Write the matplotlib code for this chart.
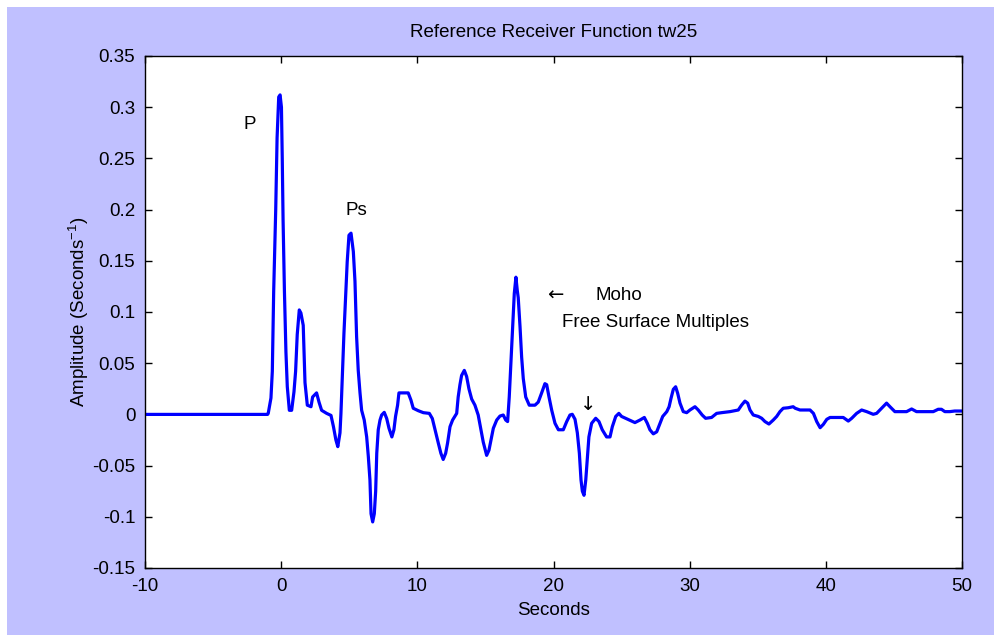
import matplotlib
matplotlib.use("Agg")
import matplotlib.pyplot as plt
from matplotlib.patches import Rectangle

plt.rcParams["font.family"] = ["Liberation Sans", "DejaVu Sans"]
plt.rcParams["mathtext.fontset"] = "custom"
plt.rcParams["mathtext.rm"] = "Liberation Sans"
plt.rcParams["mathtext.it"] = "Liberation Sans"

# receiver function samples (seconds, amplitude)
time_s = [
    -10.0, -1.0, -0.95, -0.75, -0.65, -0.55, -0.40, -0.30, -0.18, -0.08,
    0.02, 0.08, 0.14, 0.24, 0.35, 0.45, 0.60, 0.77, 0.94, 1.06,
    1.18, 1.33, 1.45, 1.62, 1.75, 1.92, 2.19, 2.31, 2.60, 2.78,
    2.97, 3.34, 3.66, 3.84, 4.02, 4.16, 4.32, 4.39, 4.49, 4.61,
    4.74, 4.85, 4.98, 5.13, 5.30, 5.42, 5.54, 5.66, 5.79, 5.91,
    6.10, 6.28, 6.40, 6.52, 6.60, 6.72, 6.84, 6.94, 7.02, 7.13,
    7.26, 7.38, 7.57, 7.75, 7.92, 8.13, 8.28, 8.40, 8.55, 8.65,
    8.97, 9.33, 9.53, 9.70, 10.07, 10.44, 10.88, 11.10, 11.30, 11.54,
    11.73, 11.90, 12.08, 12.22, 12.40, 12.59, 12.89, 13.00, 13.13, 13.25,
    13.45, 13.62, 13.79, 13.99, 14.23, 14.47, 14.67, 14.84, 15.09, 15.26,
    15.41, 15.58, 15.83, 16.07, 16.31, 16.49, 16.63, 16.75, 16.88, 17.00,
    17.12, 17.24, 17.34, 17.41, 17.54, 17.66, 17.78, 17.96, 18.22, 18.64,
    18.88, 19.13, 19.37, 19.50, 19.67, 19.87, 20.11, 20.36, 20.72, 20.97,
    21.21, 21.38, 21.58, 21.75, 21.90, 22.02, 22.12, 22.24, 22.37, 22.48,
    22.60, 22.80, 23.10, 23.34, 23.58, 23.90, 24.15, 24.32, 24.57, 24.80,
    25.00, 25.49, 25.98, 26.35, 26.67, 26.89, 27.08, 27.33, 27.58, 27.82,
    28.02, 28.32, 28.49, 28.63, 28.80, 28.97, 29.12, 29.29, 29.53, 29.78,
    30.02, 30.39, 30.63, 30.92, 31.17, 31.61, 31.98, 32.35, 32.96, 33.57,
    33.81, 34.06, 34.26, 34.43, 34.67, 35.04, 35.29, 35.53, 35.82, 36.14,
    36.39, 36.63, 36.87, 37.24, 37.60, 37.75, 38.10, 38.84, 39.09, 39.33,
    39.58, 39.82, 40.07, 40.31, 41.28, 41.65, 41.90, 42.26, 42.63, 43.00,
    43.48, 43.73, 44.10, 44.46, 44.71, 45.07, 45.93, 46.30, 46.66, 47.89,
    48.25, 48.49, 48.74, 49.10, 49.47, 50.00,
]
amplitude = [
    0.0, 0.0, 0.001, 0.016, 0.042, 0.12, 0.20, 0.27, 0.31, 0.312,
    0.30, 0.25, 0.19, 0.12, 0.061, 0.027, 0.004, 0.004, 0.022, 0.042,
    0.078, 0.102, 0.099, 0.087, 0.031, 0.009, 0.0075, 0.017, 0.021, 0.012,
    0.004, 0.001, -0.001, -0.012, -0.025, -0.0315, -0.018, 0.001, 0.037, 0.079,
    0.118, 0.149, 0.175, 0.177, 0.159, 0.13, 0.076, 0.043, 0.021, 0.004,
    -0.0055, -0.022, -0.041, -0.064, -0.097, -0.105, -0.097, -0.075, -0.038, -0.015,
    -0.0055, -0.0006, 0.002, -0.004, -0.0136, -0.022, -0.015, -0.002, 0.009, 0.021,
    0.021, 0.021, 0.014, 0.006, 0.0036, 0.0017, 0.001, -0.004, -0.015, -0.028,
    -0.038, -0.044, -0.038, -0.028, -0.012, -0.0055, 0.001, 0.017, 0.029, 0.038,
    0.043, 0.037, 0.025, 0.015, 0.009, -0.0006, -0.015, -0.027, -0.040, -0.035,
    -0.025, -0.0136, -0.0055, -0.0016, -0.0006, -0.0055, -0.007, 0.017, 0.053, 0.087,
    0.118, 0.134, 0.121, 0.114, 0.086, 0.056, 0.035, 0.017, 0.009, 0.009,
    0.012, 0.021, 0.030, 0.029, 0.017, 0.004, -0.0087, -0.015, -0.015, -0.007,
    -0.0006, 0.0001, -0.0048, -0.018, -0.038, -0.064, -0.075, -0.079, -0.064, -0.0445,
    -0.022, -0.0087, -0.0038, -0.007, -0.015, -0.022, -0.022, -0.012, -0.002, 0.001,
    -0.002, -0.005, -0.008, -0.0055, -0.003, -0.0087, -0.015, -0.019, -0.017, -0.0087,
    -0.002, 0.0027, 0.0075, 0.0157, 0.0245, 0.027, 0.0206, 0.011, 0.0027, 0.0017,
    0.0043, 0.0075, 0.0043, -0.0006, -0.0038, -0.003, 0.001, 0.0017, 0.0027, 0.0043,
    0.009, 0.013, 0.011, 0.0043, -0.0006, -0.002, -0.0038, -0.007, -0.0094, -0.0055,
    -0.002, 0.0027, 0.006, 0.0065, 0.0075, 0.006, 0.0043, 0.0043, 0.001, -0.007,
    -0.013, -0.0097, -0.0048, -0.003, -0.003, -0.0065, -0.0038, 0.001, 0.0043, 0.0027,
    0.0001, 0.001, 0.006, 0.011, 0.0075, 0.0027, 0.0027, 0.0053, 0.0027, 0.0027,
    0.005, 0.005, 0.0027, 0.0027, 0.0033, 0.0033,
]

x_ticks = [-10, 0, 10, 20, 30, 40, 50]
y_ticks = [-0.15, -0.1, -0.05, 0, 0.05, 0.1, 0.15, 0.2, 0.25, 0.3, 0.35]
y_tick_labels = ["-0.15", "-0.1", "-0.05", "0", "0.05", "0.1", "0.15",
                 "0.2", "0.25", "0.3", "0.35"]

fig = plt.figure(figsize=(9.95, 6.35), dpi=100, facecolor="white")
fig.patches.append(Rectangle((7 / 995, 0), 1, 1 - 7 / 635, transform=fig.transFigure,
                             facecolor="#c0c0ff", edgecolor="none", zorder=-10))

ax = fig.add_axes([145 / 995, 1 - 568 / 635, 817 / 995, 512 / 635])
ax.plot(time_s, amplitude, color="#0000ff", linewidth=2.3)

ax.set_xlim(-10, 50)
ax.set_ylim(-0.15, 0.35)
ax.set_xticks(x_ticks)
ax.set_xticklabels([str(t) for t in x_ticks])
ax.set_yticks(y_ticks)
ax.set_yticklabels(y_tick_labels)
ax.tick_params(direction="in", length=5, width=1, top=True, right=True,
               labelsize=13.5, colors="black", pad=7)
for sp in ax.spines.values():
    sp.set_linewidth(1)

ax.set_title("Reference Receiver Function tw25", fontsize=13.5, pad=14)
ax.set_xlabel("Seconds", fontsize=13.5, labelpad=5)
ax.set_ylabel(r"Amplitude (Seconds$^{-1}$)", fontsize=13.5, labelpad=1)

# phase annotations
fs = 13.5
arrow_font = ["DejaVu Sans"]
ax.text(-2.78, 0.283, "P", fontsize=fs, va="center")
ax.text(4.69, 0.199, "Ps", fontsize=fs, va="center")
ax.text(19.5, 0.116, "\u2190", fontsize=14, va="center", family=arrow_font)
ax.text(23.05, 0.116, "Moho", fontsize=fs, va="center")
ax.text(20.62, 0.0896, "Free Surface Multiples", fontsize=fs, va="center")
ax.text(21.95, 0.010, "\u2193", fontsize=14, va="center", family=arrow_font)

fig.savefig("out.png", dpi=100, facecolor=fig.get_facecolor())
